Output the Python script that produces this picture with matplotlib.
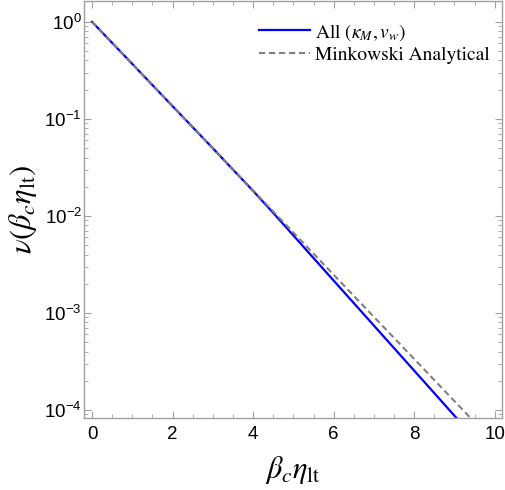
import matplotlib
matplotlib.use("Agg")
import matplotlib.pyplot as plt
from matplotlib.ticker import MultipleLocator, LogLocator, NullFormatter
import numpy as np

# Data (x = beta_c * eta_lt, log10 of nu)
x_all = [0, 1, 2, 3, 4, 4.5, 5, 5.5, 6, 6.5, 7, 7.5, 8, 8.5, 9, 9.1]
log_nu_all = [0, -0.434, -0.869, -1.303, -1.742, -1.969, -2.201, -2.434,
              -2.666, -2.898, -3.130, -3.362, -3.594, -3.826, -4.059, -4.105]

x_mink = [0, 2, 4, 6, 8, 9.6]
log_nu_mink = [0, -0.869, -1.737, -2.606, -3.474, -4.169]

plt.rcParams['mathtext.fontset'] = 'stix'
plt.rcParams['font.family'] = ['Liberation Sans', 'DejaVu Sans']

fig = plt.figure(figsize=(5.06, 4.90), dpi=100)
ax = fig.add_axes([0.166, 0.147, 0.826, 0.851])

ax.plot(x_all, 10 ** np.array(log_nu_all), color='#0000ff', lw=1.6,
        label=r'All $(\kappa_M, v_w)$', zorder=2)
ax.plot(x_mink, 10 ** np.array(log_nu_mink), color='#808080', lw=1.5,
        ls=(0, (3, 1.8)), label='Minkowski Analytical', zorder=3)

ax.set_yscale('log')
ax.set_xlim(-0.2, 10.18)
ax.set_ylim(10 ** -4.082, 10 ** 0.215)

ax.xaxis.set_major_locator(MultipleLocator(2))
ax.xaxis.set_minor_locator(MultipleLocator(0.5))
ax.yaxis.set_major_locator(LogLocator(base=10, numticks=10))
ax.yaxis.set_minor_locator(LogLocator(base=10, subs=np.arange(2, 10), numticks=20))
ax.yaxis.set_minor_formatter(NullFormatter())

gray = '#a0a0a0'
for s in ax.spines.values():
    s.set_color(gray)
    s.set_linewidth(1.0)
ax.tick_params(which='both', direction='in', top=True, right=True,
               color=gray, labelsize=13.5, labelcolor='black')
ax.tick_params(which='major', length=5, width=0.8)
ax.tick_params(which='minor', length=2.8, width=0.6)
ax.tick_params(axis='x', which='major', pad=6)
ax.tick_params(axis='y', which='major', pad=1.5)

ax.set_xlabel(r'$\beta_c\eta_{\rm lt}$', fontsize=22, labelpad=8)
ax.set_ylabel(r'$\nu(\beta_c\eta_{\rm lt})$', fontsize=22, labelpad=4)

leg = ax.legend(loc='upper right', bbox_to_anchor=(0.972, 0.950),
                frameon=False, handlelength=2.6, handletextpad=0.3,
                labelspacing=0.18, borderaxespad=0, borderpad=0,
                prop={'family': 'STIXGeneral', 'size': 14})

fig.savefig('out.png', dpi=100)
